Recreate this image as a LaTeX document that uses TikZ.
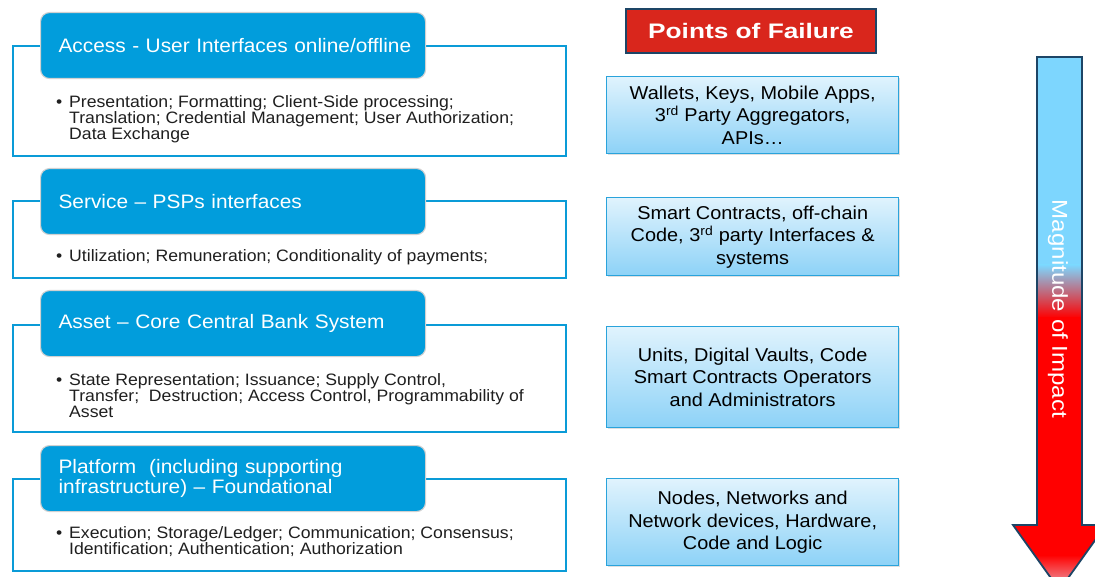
\documentclass[tikz,border=0pt]{standalone}
\usepackage{fontspec}
\setmainfont{Liberation Sans}[FakeStretch=1.07]
\newfontfamily\titlefont{Liberation Sans}[FakeStretch=1.25]
\newfontfamily\arrowfont{Liberation Sans}[FakeStretch=1.12]
\usetikzlibrary{shadows}

\definecolor{hdrblue}{HTML}{019DDC}
\definecolor{layerblue}{HTML}{0A9BD7}
\definecolor{failedge}{HTML}{2AA3DB}
\definecolor{failtop}{HTML}{E0F3FD}
\definecolor{failbot}{HTML}{8DD2F7}
\definecolor{titlered}{HTML}{D9261C}
\definecolor{navyedge}{HTML}{1D4566}
\definecolor{impactblue}{HTML}{7DD6FE}
\definecolor{impactred}{HTML}{FF0000}
\definecolor{impacttip}{HTML}{E8B8C4}

\begin{document}
\begin{tikzpicture}[x=1pt,y=-1pt,
  layerbox/.style={draw=layerblue, line width=2.4pt, fill=white, rectangle,
    inner sep=0pt, anchor=north west, minimum width=553pt},
  layerhead/.style={draw=black!18, line width=1.1pt, fill=hdrblue,
    rounded corners=9pt, inner xsep=18pt, inner ysep=0pt, text width=349pt,
    align=left, minimum height=66pt, anchor=north west, text=white,
    font=\fontsize{19.5}{20}\selectfont},
  layeritems/.style={anchor=west, inner sep=0pt, align=left, text=black!88,
    font=\fontsize{16.5}{16}\selectfont},
  failbox/.style={draw=failedge, line width=1.4pt, top color=failtop,
    bottom color=failbot, minimum width=292pt, anchor=north west,
    align=center, inner sep=0pt, font=\fontsize{18.6}{22.5}\selectfont,
    drop shadow={opacity=0.25, shadow xshift=1.2pt, shadow yshift=-1.5pt}},
]
\useasboundingbox (0,0) rectangle (1095,577);
\fill[white] (0,0) rectangle (1095,577);

% --- layer 1: access
\node[layerbox, minimum height=110pt] (o1) at (12,45) {};
\node[layerhead] (h1) at (40,12) {\mbox{Access - User Interfaces online/offline}};
\node[layeritems] (b1) at (69,119) {\llap{\textbullet\hspace{7pt}}Presentation; Formatting; Client-Side processing;\\
Translation; Credential Management; User Authorization;\\
Data Exchange};

% --- layer 2: service
\node[layerbox, minimum height=77pt] (o2) at (12,200) {};
\node[layerhead] (h2) at (40,168) {Service -- PSPs interfaces};
\node[layeritems] (b2) at (69,257) {\llap{\textbullet\hspace{7pt}}Utilization; Remuneration; Conditionality of payments;};

% --- layer 3: asset
\node[layerbox, minimum height=107pt] (o3) at (12,324) {};
\node[layerhead] (h3) at (40,290) {Asset -- Core Central Bank System};
\node[layeritems] (b3) at (69,396) {\llap{\textbullet\hspace{7pt}}State Representation; Issuance; Supply Control,\\
Transfer;\ \ Destruction; Access Control, Programmability of\\
Asset};

% --- layer 4: platform
\node[layerbox, minimum height=92pt] (o4) at (12,478) {};
\node[layerhead] (h4) at (40,445) {Platform\ \ (including supporting\\ infrastructure) -- Foundational};
\node[layeritems] (b4) at (69,542) {\llap{\textbullet\hspace{7pt}}Execution; Storage/Ledger; Communication; Consensus;\\
Identification; Authentication; Authorization};

% --- points of failure column
\node[draw=navyedge, line width=1.8pt, fill=titlered, minimum width=250pt,
  minimum height=44pt, inner sep=0pt, text=white,
  font=\titlefont\bfseries\fontsize{21}{21}\selectfont] (title) at (751,31) {Points of Failure};

\node[failbox, minimum height=77pt] (f1) at (606,76) {Wallets, Keys, Mobile Apps,\\
3\textsuperscript{rd} Party Aggregators,\\ APIs…};
\node[failbox, minimum height=78pt] (f2) at (606,197) {Smart Contracts, off-chain\\
Code, 3\textsuperscript{rd} party Interfaces \&\\ systems};
\node[failbox, minimum height=101pt] (f3) at (606,326) {Units, Digital Vaults, Code\\
Smart Contracts Operators\\ and Administrators};
\node[failbox, minimum height=87pt] (f4) at (606,478) {Nodes, Networks and\\
Network devices, Hardware,\\ Code and Logic};

% --- magnitude of impact arrow
\begin{scope}
  \clip (1037,57) -- (1082,57) -- (1082,525) -- (1106,525) -- (1059.5,590)
        -- (1013,525) -- (1037,525) -- cycle;
  \fill[impactblue] (1000,50) rectangle (1110,266);
  \shade[top color=impactblue, bottom color=impactred] (1000,265) rectangle (1110,318);
  \fill[impactred] (1000,317) rectangle (1110,556);
  \shade[top color=impactred, bottom color=impacttip] (1000,555) rectangle (1110,592);
\end{scope}
\draw[navyedge, line width=1.8pt, line join=miter]
  (1037,57) -- (1082,57) -- (1082,525) -- (1106,525) -- (1059.5,590)
  -- (1013,525) -- (1037,525) -- cycle;
\node[rotate=-90, text=white, inner sep=0pt,
  font=\arrowfont\fontsize{21.5}{21.5}\selectfont] (impact) at (1058,309) {Magnitude of Impact};
\end{tikzpicture}
\end{document}
